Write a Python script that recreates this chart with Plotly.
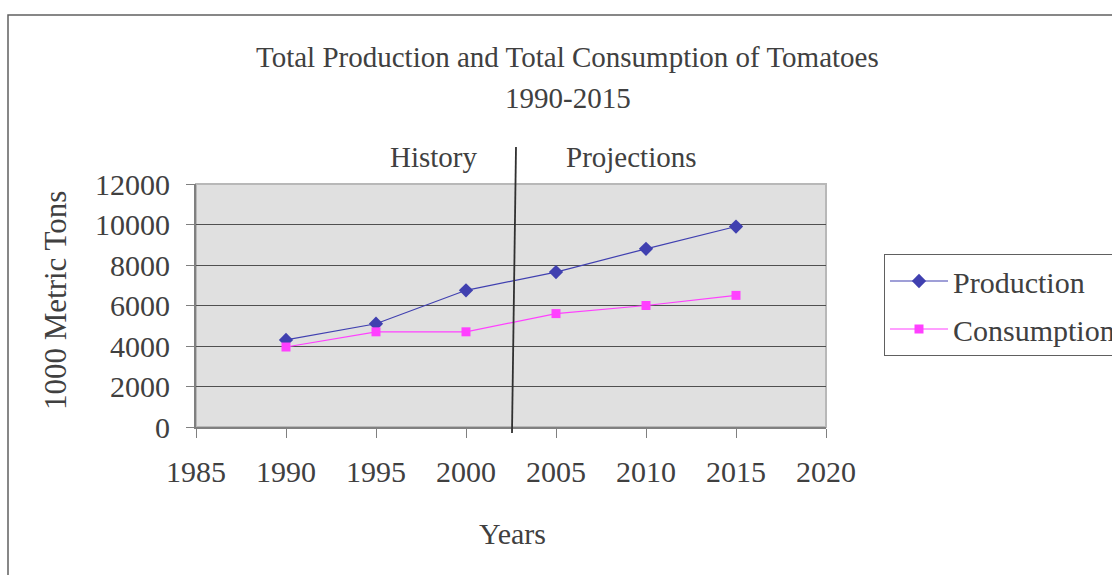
import plotly.graph_objects as go

# Tomato production and consumption, thousand metric tons
years = [1990, 1995, 2000, 2005, 2010, 2015]
production = [4300, 5100, 6750, 7650, 8800, 9900]
consumption = [3950, 4700, 4700, 5600, 6000, 6500]

x_ticks = [1985, 1990, 1995, 2000, 2005, 2010, 2015, 2020]
y_ticks = [0, 2000, 4000, 6000, 8000, 10000, 12000]

W, H = 1112, 575
L, R, T, B = 196, 826, 184, 427  # plot area in pixels


def px(x):
    return (x - L) / (R - L)


def py(y):
    return (B - y) / (B - T)


FONT = "Liberation Serif"
TXT = "#404040"

fig = go.Figure()
fig.add_trace(go.Scatter(
    x=years, y=production, name="Production", mode="lines+markers",
    legendgroup="prod",
    line=dict(color="#4040b0", width=1.2),
    marker=dict(symbol="diamond", size=11, color="#4040b0"),
))
fig.add_trace(go.Scatter(
    x=years, y=consumption, name="Consumption", mode="lines+markers",
    legendgroup="cons",
    line=dict(color="#ff40ff", width=1.2),
    marker=dict(symbol="square", size=9, color="#ff40ff"),
))

annotations = [
    dict(text="Total Production and Total Consumption of Tomatoes", x=px(567), y=py(57), size=29),
    dict(text="1990-2015", x=px(568), y=py(98), size=29),
    dict(text="History", x=px(434), y=py(157), size=29),
    dict(text="Projections", x=px(631), y=py(157), size=29),
    dict(text="Years", x=px(512), y=py(533), size=30),
]
for a in annotations:
    fig.add_annotation(text=a["text"], x=a["x"], y=a["y"], xref="paper", yref="paper",
                       showarrow=False, xanchor="center", yanchor="middle",
                       font=dict(family=FONT, size=a["size"], color=TXT))
fig.add_annotation(text="1000 Metric Tons", x=px(55), y=py(301), xref="paper", yref="paper",
                   showarrow=False, textangle=-90, xanchor="center", yanchor="middle",
                   font=dict(family=FONT, size=31, color=TXT))

# outer chart border
fig.add_shape(type="rect", xref="paper", yref="paper",
              x0=px(8), x1=px(1200), y0=py(700), y1=py(15),
              line=dict(color="#606060", width=1.5), layer="below")
# light frame around the plot area
fig.add_shape(type="rect", xref="paper", yref="paper", x0=0, x1=1, y0=0, y1=1,
              line=dict(color="#b8b8b8", width=2), layer="below")
# history / projections divider
fig.add_shape(type="line", xref="paper", yref="paper",
              x0=px(516), y0=py(147), x1=px(512), y1=py(433),
              line=dict(color="#303030", width=1.8))

fig.update_layout(
    width=W, height=H,
    margin=dict(l=L, r=W - R, t=T, b=H - B, autoexpand=False),
    paper_bgcolor="white", plot_bgcolor="#e0e0e0",
    font=dict(family=FONT, color=TXT),
    showlegend=True,
    legend=dict(
        x=px(884), y=py(254), xanchor="left", yanchor="top",
        bordercolor="#606060", borderwidth=1, bgcolor="white",
        font=dict(family=FONT, size=30, color=TXT),
        itemwidth=58, tracegroupgap=6,
    ),
)
fig.update_xaxes(
    range=[1985, 2020], tickvals=x_ticks, ticktext=[str(v) for v in x_ticks],
    showgrid=False, zeroline=False,
    showline=True, linecolor="#808080", linewidth=2,
    ticks="outside", ticklen=9, tickcolor="#808080", tickwidth=1,
    tickfont=dict(family=FONT, size=30, color=TXT), ticklabelstandoff=8,
)
fig.update_yaxes(
    range=[0, 12000], tickvals=y_ticks, ticktext=[str(v) for v in y_ticks],
    showgrid=True, gridcolor="#505050", gridwidth=1, zeroline=False,
    showline=True, linecolor="#808080", linewidth=2,
    ticks="outside", ticklen=8, tickcolor="#808080", tickwidth=1,
    tickfont=dict(family=FONT, size=30, color=TXT), ticklabelstandoff=10,
)

fig.write_html("out.html")
